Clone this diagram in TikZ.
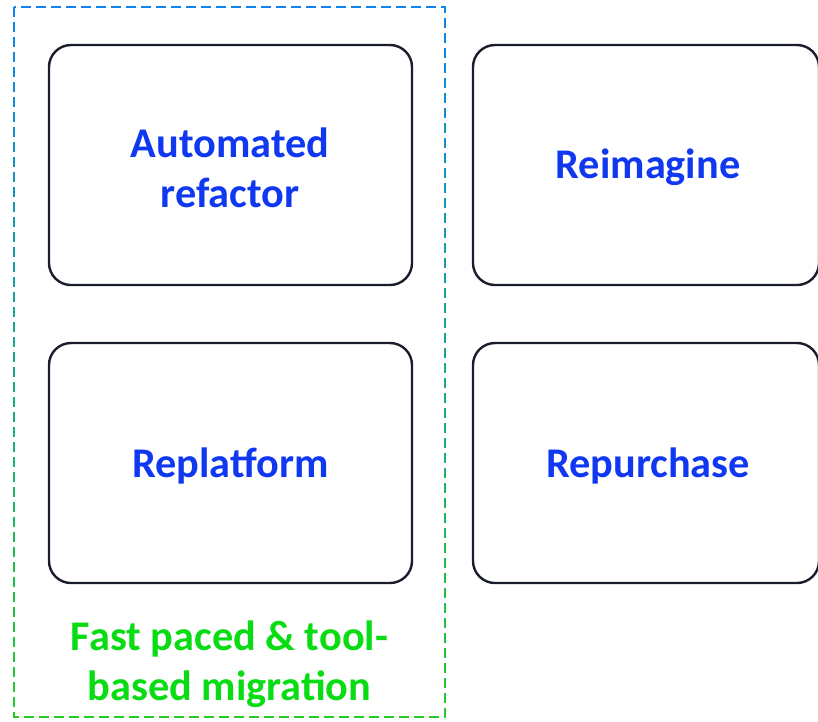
\documentclass[tikz,border=0pt]{standalone}
\usepackage{fontspec}
\setmainfont{Carlito}
\definecolor{boxline}{RGB}{26,30,44}
\definecolor{txtblue}{RGB}{16,56,240}
\definecolor{txtgreen}{RGB}{10,220,20}
\definecolor{dblue}{RGB}{18,130,238}
\definecolor{dgreen}{RGB}{34,204,40}
\tikzset{
  card/.style={draw=boxline, line width=2.4pt, rounded corners=22pt, inner sep=0pt,
    minimum width=363pt, minimum height=240pt},
  cardtext/.style={text=txtblue, align=center, inner sep=0pt,
    font=\fontsize{42.3}{50}\selectfont\bfseries},
  groupnote/.style={text=txtgreen, align=center, inner sep=0pt,
    font=\fontsize{42.3}{50}\selectfont\bfseries},
  dashborder/.style={line width=2.6pt, dash pattern=on 10pt off 5pt}
}
\begin{document}
\begin{tikzpicture}[x=1pt,y=-1pt]
\useasboundingbox (0,0) rectangle (818,721);
\clip (0,0) rectangle (818,721);
% gradient dashed group border
\foreach \i in {0,...,39}{
  \pgfmathsetmacro{\ya}{\i*18.025}
  \pgfmathsetmacro{\yb}{\i*18.025+18.6}
  \pgfmathsetmacro{\p}{\i*2.564}
  \begin{scope}
    \clip (0,\ya) rectangle (818,\yb);
    \draw[dashborder, draw=dgreen!\p!dblue] (14,7) rectangle (445,717);
  \end{scope}
}
\node[card] (auto) at (230.5,165) {};
\node[card] (replat) at (230.5,463) {};
\node[card, minimum width=346pt] (reim) at (646,165) {};
\node[card, minimum width=346pt] (repur) at (646,463) {};
\node[cardtext] (autot) at (230,168) {Automated\\refactor};
\node[cardtext] (replatt) at (230.5,466) {Replatform};
\node[cardtext] (reimt) at (648,167.5) {Reimagine};
\node[cardtext] (repurt) at (648,466) {Repurchase};
\node[groupnote] (note) at (229.5,664.5) {Fast paced \& tool-\\based migration};
\end{tikzpicture}
\end{document}
